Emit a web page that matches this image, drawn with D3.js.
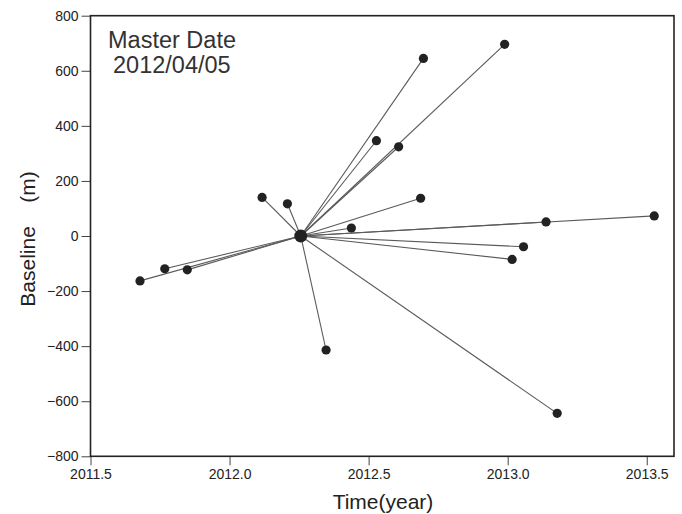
<!DOCTYPE html>
<html><head><meta charset="utf-8">
<script src="https://cdn.jsdelivr.net/npm/d3@7"></script>
<style>body{margin:0;background:#fff}svg{display:block}</style>
</head><body><svg id="c" width="682" height="514"></svg>
<script>
const master = {t: 2012.256, b: 0};
const times = [2012.697, 2012.989, 2012.528, 2012.608, 2012.117, 2012.208, 2012.687, 2012.438, 2013.138, 2013.527, 2013.057, 2013.016, 2012.347, 2011.678, 2011.767, 2011.848, 2013.178];
const baselines = [645, 696, 346, 324, 140, 117, 137, 29, 51, 73, -39, -85, -414, -163, -119, -123, -644];
const xTicks = [2011.5, 2012.0, 2012.5, 2013.0, 2013.5];
const yTicks = [800, 600, 400, 200, 0, -200, -400, -600, -800];

const svg = d3.select("#c");
const L = 90.5, R = 674, T = 15.7, B = 456.3;
const x = d3.scaleLinear().domain([2011.5, 2013.598]).range([L, R]);
const y = d3.scaleLinear().domain([-800, 800]).range([B, T]);
const font = "'Liberation Sans', Arial, sans-serif";

const pts = times.map((t, i) => ({t, b: baselines[i]}));

svg.append("g").selectAll("line").data(pts).join("line")
  .attr("x1", x(master.t)).attr("y1", y(master.b))
  .attr("x2", d => x(d.t)).attr("y2", d => y(d.b))
  .attr("stroke", "#5a5a5a").attr("stroke-width", 1.1);

svg.append("g").selectAll("circle").data(pts).join("circle")
  .attr("cx", d => x(d.t)).attr("cy", d => y(d.b)).attr("r", 4.6).attr("fill", "#222");
svg.append("circle").attr("cx", x(master.t)).attr("cy", y(master.b)).attr("r", 6.5).attr("fill", "#222");

const xa = svg.append("g").attr("transform", `translate(0,${B})`)
  .call(d3.axisBottom(x).tickValues(xTicks).tickSize(9).tickPadding(4)
    .tickFormat((d, i) => i === 0 ? "2011.5" : d3.format(".1f")(d)));
const ya = svg.append("g").attr("transform", `translate(${L},0)`)
  .call(d3.axisLeft(y).tickValues(yTicks).tickSize(9).tickPadding(3).tickFormat(d3.format("d")));
[xa, ya].forEach(a => {
  a.attr("font-size", null).attr("font-family", null);
  a.select(".domain").remove();
  a.selectAll(".tick line").attr("stroke", "#444").attr("stroke-width", 1);
  a.selectAll(".tick text").style("font-family", font).style("font-size", "14px").attr("fill", "#222");
});

svg.append("rect").attr("x", L).attr("y", T).attr("width", R - L).attr("height", B - T)
  .attr("fill", "none").attr("stroke", "#222").attr("stroke-width", 1.6);

svg.append("text").attr("x", 108).attr("y", 48).style("font-family", font).style("font-size", "23.5px")
  .attr("fill", "#333").text("Master Date");
svg.append("text").attr("x", 113).attr("y", 73).style("font-family", font).style("font-size", "23.5px")
  .attr("fill", "#333").text("2012/04/05");

svg.append("text").attr("x", 383).attr("y", 509).attr("text-anchor", "middle").style("font-family", font)
  .style("font-size", "21px").attr("fill", "#222").text("Time(year)");
svg.append("text").attr("transform", "translate(35,239) rotate(-90)").attr("text-anchor", "middle")
  .style("font-family", font).style("font-size", "21px").attr("fill", "#222")
  .style("white-space", "pre").text("Baseline    (m)");
</script></body></html>
